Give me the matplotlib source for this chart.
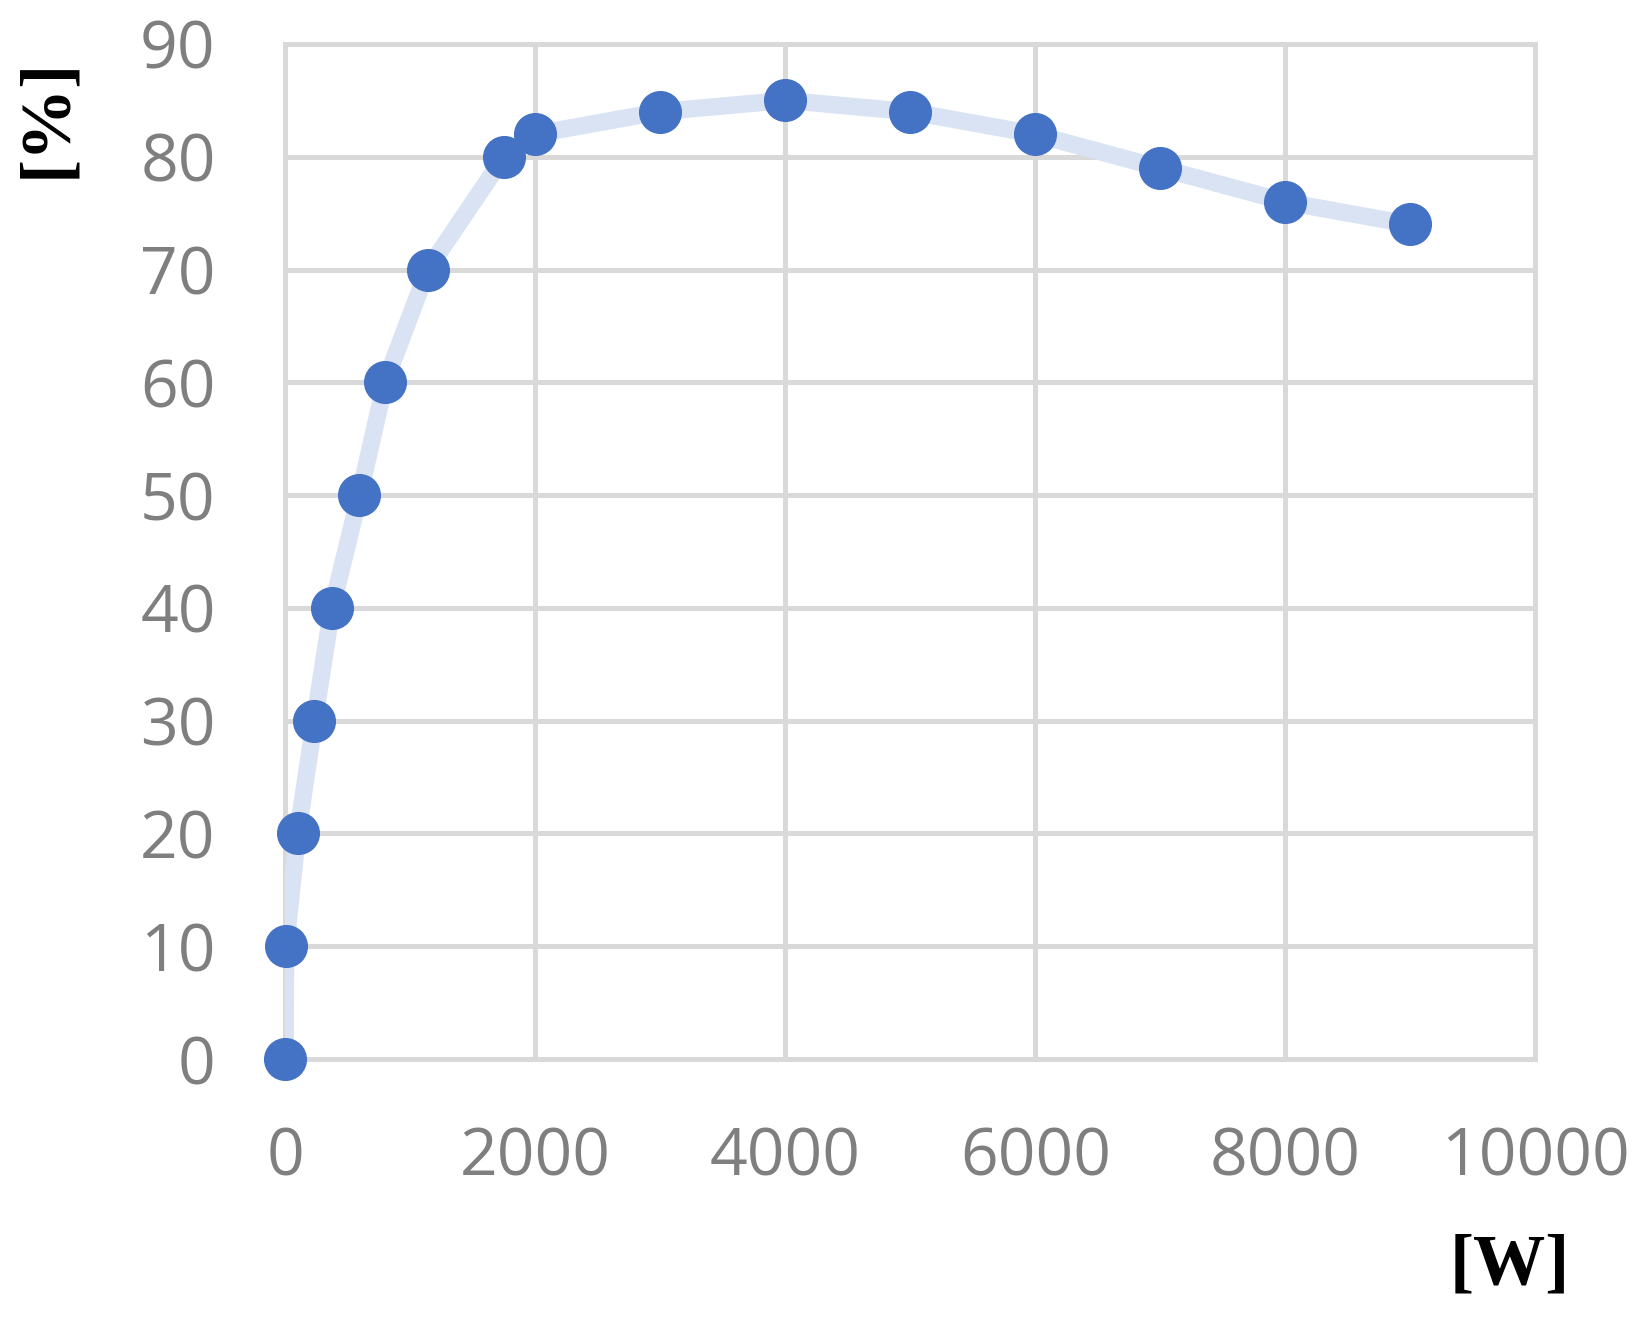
import numpy as np
import matplotlib.pyplot as plt

# power [W] and efficiency [%]
power = [0, 5, 100, 235, 375, 595, 800, 1140, 1750, 2000, 3000, 4000, 5000, 6000, 7000, 8000, 9000]
eff = [0, 10, 20, 30, 40, 50, 60, 70, 80, 82, 84, 85, 84, 82, 79, 76, 74]
xticks = [0, 2000, 4000, 6000, 8000, 10000]
yticks = [0, 10, 20, 30, 40, 50, 60, 70, 80, 90]

grid_c = '#d9d9d9'
fig = plt.figure(figsize=(16.44, 13.21), dpi=100)
ax = fig.add_axes([0.1734, 0.1983, 0.7606, 0.7684])

ax.plot(power, eff, color='#dae3f3', linewidth=12.5, zorder=3, solid_capstyle='round')
ax.plot(power, eff, linestyle='none', marker='o', markersize=30,
        color='#4472c4', zorder=4, clip_on=False)

ax.set_xlim(0, 10000)
ax.set_ylim(0, 90)
ax.set_xticks(xticks)
ax.set_yticks(yticks)
ax.grid(True, color=grid_c, linewidth=3.6, zorder=0)
ax.set_axisbelow(True)
for s in ax.spines.values():
    s.set_color(grid_c)
    s.set_linewidth(3.6)
ax.tick_params(length=0, labelsize=47.5, labelcolor='#7f7f7f')
ax.tick_params(axis='x', pad=48)
ax.tick_params(axis='y', pad=50)
for lab in ax.get_xticklabels() + ax.get_yticklabels():
    lab.set_fontfamily('Open Sans')

fig.text(48 / 1644, 1 - 118 / 1321, '[%]', rotation=90, ha='center', va='center',
         fontsize=52, fontweight='bold', fontfamily='Liberation Serif')
fig.text(1510 / 1644, 1 - 1266 / 1321, '[W]', ha='center', va='center',
         fontsize=52, fontweight='bold', fontfamily='Liberation Serif')

plt.savefig('out.png', dpi=100)
